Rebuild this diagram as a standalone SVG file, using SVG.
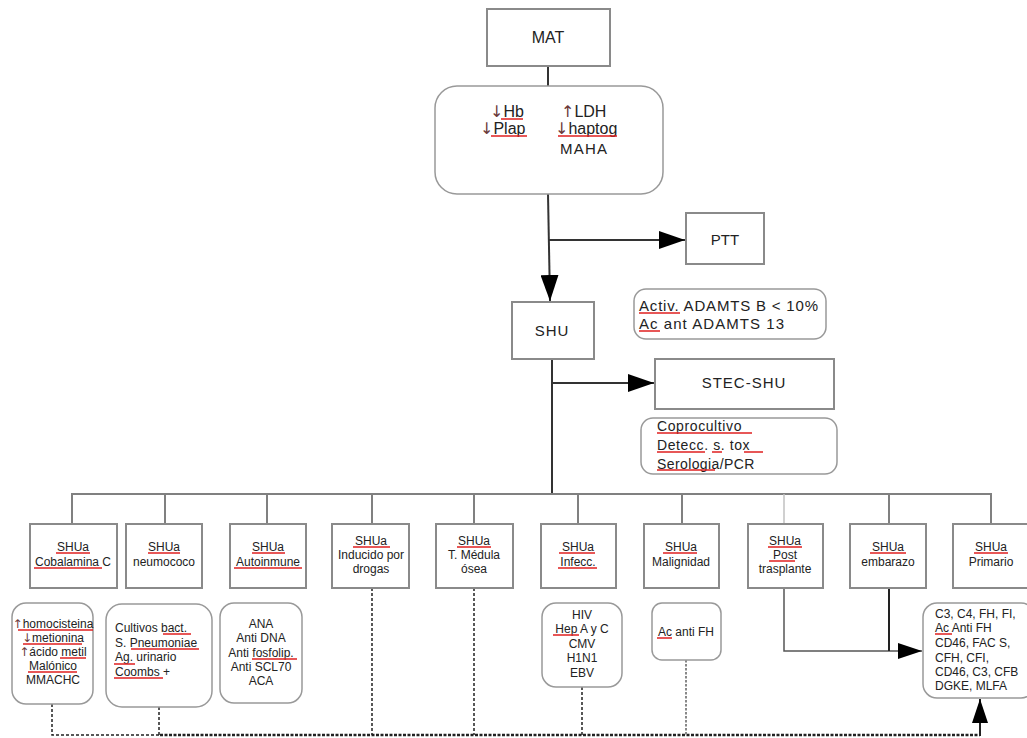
<svg xmlns="http://www.w3.org/2000/svg" width="1027" height="738" viewBox="0 0 1027 738">
<defs>
<style>
text{font-family:"Liberation Sans",Arial,sans-serif;fill:#222}
.box{fill:#fff;stroke:#8a8a8a;stroke-width:2}
.rbox{fill:#fff;stroke:#999;stroke-width:1.5}
.t16{font-size:16px}
.t15{font-size:15px}
.t14{font-size:14px}
.t12{font-size:12px}
.c{text-anchor:middle}
.arr{fill:#6b3a3a;font-family:"DejaVu Sans",sans-serif}
.main{fill:none;stroke:#333;stroke-width:2}
.bus{fill:none;stroke:#808080;stroke-width:2}
.dash{fill:none;stroke:#222;stroke-width:1.5;stroke-dasharray:3 2}
.red{stroke:#e02020;stroke-width:1.5;fill:none}
</style>
<marker id="ah" viewBox="0 0 26 18" refX="26" refY="9" markerWidth="26" markerHeight="18" markerUnits="userSpaceOnUse" orient="auto">
<path d="M0,0 L26,9 L0,18 z" fill="#000"/>
</marker>
<marker id="ahs" viewBox="0 0 24 16" refX="24" refY="8" markerWidth="24" markerHeight="16" markerUnits="userSpaceOnUse" orient="auto">
<path d="M0,0 L24,8 L0,16 z" fill="#000"/>
</marker>
</defs>
<rect width="1027" height="738" fill="#fff"/>

<g id="connectors">
<path class="main" d="M548,66 V86"/>
<path class="main" d="M548,194 L550,301" marker-end="url(#ah)"/>
<path class="main" d="M548,240 H685" marker-end="url(#ah)"/>
<path class="main" d="M552,359 V494"/>
<path class="main" d="M552,383 H654" marker-end="url(#ah)"/>
<path class="bus" d="M72,524 V494 H991 V524"/>
<path class="bus" d="M165,494 V524 M267,494 V524 M372,494 V524 M474,494 V524 M578,494 V524 M682,494 V524 M889,494 V524"/>
<path fill="none" stroke="#c0c0c0" stroke-width="1.5" d="M784,494 V524"/>
<path fill="none" stroke="#555" stroke-width="1.5" d="M784,588 V651 H922" marker-end="url(#ahs)"/>
<path fill="none" stroke="#222" stroke-width="2" d="M889,588 V651"/>
<path class="dash" d="M52,704 V735 H160"/>
<path fill="none" stroke="#222" stroke-width="2.5" stroke-dasharray="3 1.5" d="M160,735 H980"/>
<path fill="none" stroke="#222" stroke-width="2" d="M980,736 V699" marker-end="url(#ahs)"/>
<path class="dash" d="M159,707 V735 M372,588 V735 M474,588 V735 M582,687 V735"/>
<path fill="none" stroke="#888" stroke-width="2" stroke-dasharray="2.5 1.5" d="M686,660 V735"/>
</g>

<g id="mat"><rect class="box" x="487" y="9" width="123" height="57"/><text class="t16 c" x="548" y="43">MAT</text></g>

<g id="lab">
<rect class="rbox" x="435" y="86" width="228" height="108" rx="22"/>
<text class="t16" x="490" y="117"><tspan class="arr">↓</tspan>Hb</text>
<text class="t16" x="480" y="134"><tspan class="arr">↓</tspan>Plap</text>
<text class="t16" x="561" y="117"><tspan class="arr">↑</tspan>LDH</text>
<text class="t16" x="555" y="134"><tspan class="arr">↓</tspan>haptog</text>
<text class="t15" x="560" y="154" letter-spacing="1.2">MAHA</text>
</g>

<g id="ptt"><rect class="box" x="686" y="213" width="78" height="51"/><text class="t15 c" x="725" y="245">PTT</text></g>

<g id="shu"><rect class="box" x="512" y="302" width="82" height="57"/><text class="t15 c" x="552" y="336" letter-spacing="1">SHU</text></g>

<g id="adamts">
<rect class="rbox" x="634" y="289" width="192" height="50" rx="12"/>
<text class="t15" x="639" y="311" textLength="179" lengthAdjust="spacing">Activ. ADAMTS B &lt; 10%</text>
<text class="t15" x="639" y="329" textLength="145" lengthAdjust="spacing">Ac ant ADAMTS 13</text>
</g>

<g id="stec"><rect class="box" x="655" y="359" width="179" height="50"/><text class="t15 c" x="744" y="388" letter-spacing="1">STEC-SHU</text></g>

<g id="copro">
<rect class="rbox" x="641" y="418" width="196" height="56" rx="12"/>
<text class="t14" x="657" y="431" letter-spacing="0.6">Coprocultivo</text>
<text class="t14" x="657" y="450" letter-spacing="0.6">Detecc. s. tox</text>
<text class="t14" x="657" y="469" letter-spacing="0.4">Serologia/PCR</text>
</g>

<g id="b1"><rect class="box" x="30" y="524" width="87" height="64"/><text class="t12 c" x="73" y="551">SHUa</text><text class="t12 c" x="73" y="566">Cobalamina C</text></g>
<g id="b2"><rect class="box" x="126" y="524" width="76" height="64"/><text class="t12 c" x="164" y="551">SHUa</text><text class="t12 c" x="164" y="566">neumococo</text></g>
<g id="b3"><rect class="box" x="230" y="524" width="76" height="64"/><text class="t12 c" x="268" y="551">SHUa</text><text class="t12 c" x="268" y="566">Autoinmune</text></g>
<g id="b4"><rect class="box" x="332" y="524" width="77" height="64"/><text class="t12 c" x="371" y="545">SHUa</text><text class="t12 c" x="371" y="559">Inducido por</text><text class="t12 c" x="371" y="573">drogas</text></g>
<g id="b5"><rect class="box" x="436" y="524" width="77" height="64"/><text class="t12 c" x="474" y="545">SHUa</text><text class="t12 c" x="474" y="559">T. Médula</text><text class="t12 c" x="474" y="573">ósea</text></g>
<g id="b6"><rect class="box" x="541" y="524" width="75" height="64"/><text class="t12 c" x="578" y="551">SHUa</text><text class="t12 c" x="578" y="566">Infecc.</text></g>
<g id="b7"><rect class="box" x="644" y="524" width="75" height="64"/><text class="t12 c" x="681" y="551">SHUa</text><text class="t12 c" x="681" y="566">Malignidad</text></g>
<g id="b8"><rect class="box" x="748" y="524" width="75" height="64"/><text class="t12 c" x="785" y="545">SHUa</text><text class="t12 c" x="785" y="559">Post</text><text class="t12 c" x="785" y="573">trasplante</text></g>
<g id="b9"><rect class="box" x="850" y="524" width="76" height="64"/><text class="t12 c" x="888" y="551">SHUa</text><text class="t12 c" x="888" y="566">embarazo</text></g>
<g id="b10"><rect class="box" x="953" y="524" width="85" height="64"/><text class="t12 c" x="991" y="551">SHUa</text><text class="t12 c" x="991" y="566">Primario</text></g>

<g id="d1">
<rect class="rbox" x="12" y="603" width="81" height="101" rx="14"/>
<text class="t12 c" x="53" y="628"><tspan class="arr">↑</tspan>homocisteina</text>
<text class="t12 c" x="53" y="642"><tspan class="arr">↓</tspan>metionina</text>
<text class="t12 c" x="53" y="656"><tspan class="arr">↑</tspan>ácido metil</text>
<text class="t12 c" x="53" y="670">Malónico</text>
<text class="t12 c" x="53" y="684">MMACHC</text>
</g>
<g id="d2">
<rect class="rbox" x="106" y="604" width="106" height="103" rx="16"/>
<text class="t12" x="115" y="632">Cultivos bact.</text>
<text class="t12" x="115" y="647">S. Pneumoniae</text>
<text class="t12" x="115" y="661">Ag. urinario</text>
<text class="t12" x="115" y="676">Coombs +</text>
</g>
<g id="d3">
<rect class="rbox" x="220" y="603" width="82" height="100" rx="14"/>
<text class="t12 c" x="261" y="628">ANA</text>
<text class="t12 c" x="261" y="642">Anti DNA</text>
<text class="t12 c" x="261" y="657">Anti fosfolip.</text>
<text class="t12 c" x="261" y="671">Anti SCL70</text>
<text class="t12 c" x="261" y="685">ACA</text>
</g>
<g id="d4">
<rect class="rbox" x="542" y="603" width="80" height="84" rx="14"/>
<text class="t12 c" x="582" y="619">HIV</text>
<text class="t12 c" x="582" y="633">Hep A y C</text>
<text class="t12 c" x="582" y="648">CMV</text>
<text class="t12 c" x="582" y="662">H1N1</text>
<text class="t12 c" x="582" y="677">EBV</text>
</g>
<g id="d5">
<rect class="rbox" x="652" y="603" width="69" height="57" rx="10"/>
<text class="t12 c" x="686" y="636">Ac anti FH</text>
</g>
<g id="d6">
<rect class="rbox" x="923" y="603" width="112" height="95" rx="14"/>
<text class="t12" x="935" y="618">C3, C4, FH, FI,</text>
<text class="t12" x="935" y="632">Ac Anti FH</text>
<text class="t12" x="935" y="647">CD46, FAC S,</text>
<text class="t12" x="935" y="662">CFH, CFI,</text>
<text class="t12" x="935" y="676">CD46, C3, CFB</text>
<text class="t12" x="935" y="690">DGKE, MLFA</text>
</g>

<g id="spellmarks">
<path class="red" d="M501,119 H523 M491,136 H527 M558,136 H617"/>
<path class="red" d="M639,313 H680 M639,331 H660"/>
<path class="red" d="M657,433 H752 M657,452 H705 M712,452 H722 M744,452 H763 M657,470 H715"/>
<path class="red" d="M56,553 H90 M34,568 H102 M148,553 H180 M252,553 H285 M234,568 H302 M353,547 H390 M457,547 H491 M559,553 H595 M558,568 H597 M663,553 H697 M768,547 H802 M769,561 H795 M870,553 H906 M974,553 H1008"/>
<path class="red" d="M18,630 H93 M23,644 H82 M60,658 H86 M28,672 H77"/>
<path class="red" d="M163,634 H191 M131,649 H199 M114,664 H135 M114,678 H163 M252,659 H297"/>
<path class="red" d="M553,635 H579 M657,638 H672 M935,634 H952"/>
</g>
</svg>
